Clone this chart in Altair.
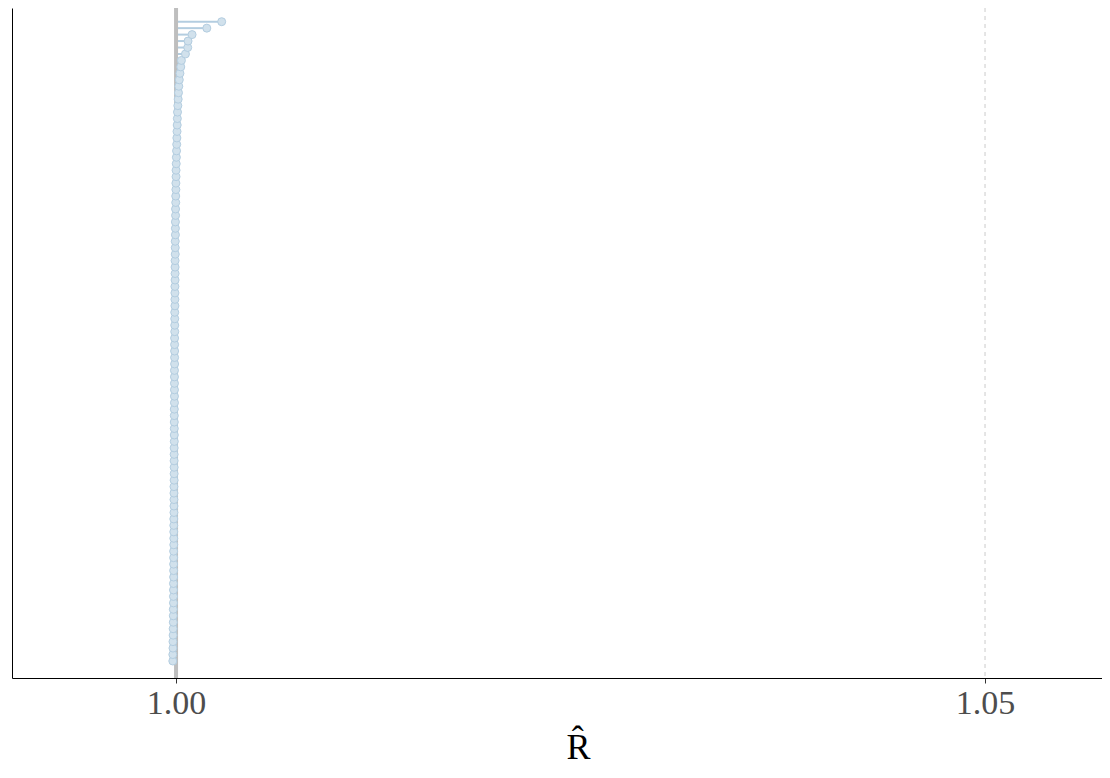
import altair as alt
import pandas as pd

# R-hat values, sorted ascending (rank 1 = bottom, rank 100 = top)
rhat = [
    0.99980, 0.99980, 0.99981, 0.99981, 0.99982, 0.99982, 0.99983, 0.99983, 0.99983, 0.99984,
    0.99984, 0.99984, 0.99984, 0.99985, 0.99985, 0.99985, 0.99985, 0.99985, 0.99986, 0.99986,
    0.99986, 0.99986, 0.99986, 0.99987, 0.99987, 0.99987, 0.99987, 0.99987, 0.99988, 0.99988,
    0.99988, 0.99988, 0.99988, 0.99988, 0.99989, 0.99989, 0.99989, 0.99989, 0.99989, 0.99989,
    0.99990, 0.99990, 0.99990, 0.99990, 0.99990, 0.99990, 0.99991, 0.99991, 0.99991, 0.99991,
    0.99991, 0.99992, 0.99992, 0.99992, 0.99992, 0.99993, 0.99993, 0.99993, 0.99993, 0.99994,
    0.99994, 0.99994, 0.99994, 0.99995, 0.99995, 0.99995, 0.99996, 0.99996, 0.99996, 0.99997,
    0.99997, 0.99998, 0.99998, 0.99999, 0.99999, 1.00000, 1.00000, 1.00001, 1.00002, 1.00003,
    1.00004, 1.00005, 1.00006, 1.00007, 1.00008, 1.00009, 1.00011, 1.00013, 1.00015, 1.00017,
    1.00020, 1.00024, 1.00029, 1.00033, 1.00058, 1.00072, 1.00074, 1.00099, 1.00190, 1.00282,
]
ranks = list(range(1, len(rhat) + 1))
ref_lines = [1.0]
dashed_lines = [1.05]
tick_vals = [1.0, 1.05]

df = pd.DataFrame({"rank": ranks, "rhat": rhat, "base": [1.0] * len(rhat)})
ref_df = pd.DataFrame({"x": ref_lines})
dash_df = pd.DataFrame({"x": dashed_lines})

FONT = "Liberation Serif"
xscale = alt.Scale(domain=[0.98986, 1.05723], nice=False, zero=False)
yscale = alt.Scale(domain=[-1.63, 102.12], nice=False, zero=False)

xaxis = alt.Axis(
    title="R\u0302",
    values=tick_vals,
    format=".2f",
    grid=False,
    domainColor="black",
    domainWidth=1,
    tickColor="#333333",
    tickSize=5,
    labelFont=FONT,
    labelFontSize=34,
    labelColor="#4d4d4d",
    labelPadding=3,
    titleFont=FONT,
    titleFontSize=36,
    titleFontWeight="normal",
    titleColor="black",
    titlePadding=10,
    titleX=566,
    titleAlign="center",
)
yaxis = alt.Axis(
    title=None, labels=False, ticks=False, grid=False,
    domainColor="black", domainWidth=1,
)

dashed = alt.Chart(dash_df).mark_rule(
    color="#cccccc", strokeWidth=1, strokeDash=[4, 4]
).encode(x=alt.X("x:Q", scale=xscale, axis=xaxis))

segs = alt.Chart(df).mark_rule(color="#b3cde0", strokeWidth=2).encode(
    x=alt.X("base:Q", scale=xscale, axis=xaxis),
    x2="rhat:Q",
    y=alt.Y("rank:Q", scale=yscale, axis=yaxis),
)

vline = alt.Chart(ref_df).mark_rule(color="#bebebe", strokeWidth=4).encode(
    x=alt.X("x:Q", scale=xscale, axis=xaxis)
)

points = alt.Chart(df).mark_point(
    filled=True, fill="#d1e1ec", stroke="#b3cde0", strokeWidth=1,
    size=64, opacity=1, shape="circle",
).encode(
    x=alt.X("rhat:Q", scale=xscale, axis=xaxis),
    y=alt.Y("rank:Q", scale=yscale, axis=yaxis),
)

chart = alt.layer(dashed, segs, vline, points).properties(
    width=1090,
    height=670,
    autosize=alt.AutoSizeParams(type="none"),
    padding={"left": 4, "top": 0, "right": 0, "bottom": 88},
).configure_view(stroke=None)

chart.save("out.html", embed_options={"renderer": "svg", "actions": False})
